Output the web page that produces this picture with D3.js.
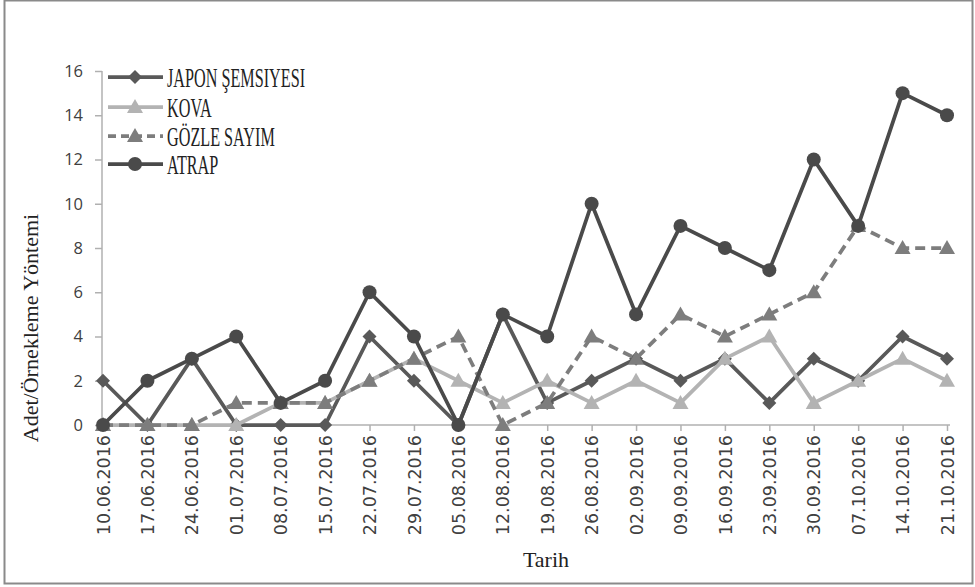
<!DOCTYPE html>
<html>
<head>
<meta charset="utf-8">
<script src="https://cdn.jsdelivr.net/npm/d3@7"></script>
<style>
  html, body { margin: 0; padding: 0; background: #fff; }
  svg { display: block; }
</style>
</head>
<body>
<script>
// Sampling dates (weekly)
const dates = ["10.06.2016","17.06.2016","24.06.2016","01.07.2016","08.07.2016","15.07.2016","22.07.2016",
  "29.07.2016","05.08.2016","12.08.2016","19.08.2016","26.08.2016","02.09.2016","09.09.2016","16.09.2016",
  "23.09.2016","30.09.2016","07.10.2016","14.10.2016","21.10.2016"];

// Counts per sampling method
const japonSemsiyesi = [2,0,3,0,0,0,4,2,0,5,1,2,3,2,3,1,3,2,4,3];
const kova           = [0,0,0,0,1,1,2,3,2,1,2,1,2,1,3,4,1,2,3,2];
const gozleSayim     = [0,0,0,1,1,1,2,3,4,0,1,4,3,5,4,5,6,9,8,8];
const atrap          = [0,2,3,4,1,2,6,4,0,5,4,10,5,9,8,7,12,9,15,14];

const seriesNames = ["JAPON ŞEMSIYESI","KOVA","GÖZLE SAYIM","ATRAP"];
const yTicks = [0,2,4,6,8,10,12,14,16];

const series = [
  {name: seriesNames[0], values: japonSemsiyesi, color: "#595959", marker: "diamond", dash: null},
  {name: seriesNames[1], values: kova,           color: "#b3b3b3", marker: "triangle", dash: null},
  {name: seriesNames[2], values: gozleSayim,     color: "#7d7d7d", marker: "triangle", dash: "10,6"},
  {name: seriesNames[3], values: atrap,          color: "#4a4a4a", marker: "circle", dash: null}
];

const W = 975, H = 587;
const svg = d3.select("body").append("svg").attr("width", W).attr("height", H);

// outer frame
svg.append("rect").attr("x", 4.5).attr("y", 0.5).attr("width", 968).attr("height", 583)
  .attr("fill", "#fff").attr("stroke", "#8a8a8a").attr("stroke-width", 2);

const x = d3.scalePoint().domain(dates).range([103, 947]);
const y = d3.scaleLinear().domain([0, 16]).range([425, 71]);
const axisX0 = 102;

// y axis
const yAxis = svg.append("g").attr("transform", `translate(${axisX0},0)`)
  .call(d3.axisLeft(y).tickValues(yTicks).tickSize(7).tickPadding(12));
yAxis.select(".domain").attr("stroke", "#b0b0b0").attr("stroke-width", 1.5)
  .attr("d", `M0,${y(16)}V${y(0)}`);
yAxis.selectAll(".tick line").attr("stroke", "#b0b0b0").attr("stroke-width", 1.5);
yAxis.selectAll(".tick text").attr("font-family", "'Open Sans', sans-serif")
  .attr("font-size", 16.5).attr("fill", "#404040");

// x axis
const xAxis = svg.append("g").attr("transform", `translate(0,${y(0)})`)
  .call(d3.axisBottom(x).tickSize(6).tickPadding(8));
xAxis.select(".domain").attr("stroke", "#b0b0b0").attr("stroke-width", 1.5)
  .attr("d", `M${axisX0},0H950`);
xAxis.selectAll(".tick line").attr("stroke", "#b0b0b0").attr("stroke-width", 1.5);
xAxis.selectAll(".tick text")
  .attr("font-family", "'DejaVu Sans', sans-serif").attr("font-size", 17.5).attr("fill", "#404040")
  .attr("transform", "rotate(-90)")
  .attr("text-anchor", "end").attr("x", -10).attr("y", 0).attr("dy", "0.35em");

// axis titles
svg.append("text").attr("x", 546).attr("y", 567).attr("text-anchor", "middle")
  .attr("font-family", "'Liberation Serif', serif").attr("font-size", 22).attr("fill", "#222")
  .text("Tarih");
svg.append("text").attr("transform", "translate(38,328) rotate(-90)").attr("text-anchor", "middle")
  .attr("font-family", "'Liberation Serif', serif").attr("font-size", 22).attr("fill", "#222")
  .text("Adet/Örnekleme Yöntemi");

// marker drawing
function drawMarker(sel, type, color) {
  if (type === "circle") {
    sel.append("circle").attr("r", 7).attr("fill", color);
  } else if (type === "diamond") {
    sel.append("path").attr("d", "M0,-7L7,0L0,7L-7,0Z").attr("fill", color);
  } else {
    sel.append("path").attr("d", "M0,-8L8,6L-8,6Z").attr("fill", color);
  }
}

const line = d3.line().x((d, i) => x(dates[i])).y(d => y(d));

series.forEach(s => {
  const g = svg.append("g");
  g.append("path").attr("d", line(s.values)).attr("fill", "none")
    .attr("stroke", s.color).attr("stroke-width", 3.75)
    .attr("stroke-dasharray", s.dash).attr("stroke-linejoin", "round");
  s.values.forEach((v, i) => {
    const m = g.append("g").attr("transform", `translate(${x(dates[i])},${y(v)})`);
    drawMarker(m, s.marker, s.color);
  });
});

// legend
const legendY = [77, 107, 136, 164];
series.forEach((s, i) => {
  const g = svg.append("g").attr("transform", `translate(0,${legendY[i]})`);
  g.append("rect").attr("x", 104).attr("y", -9).attr("width", 64).attr("height", 18).attr("fill", "#fff");
  g.append("line").attr("x1", 108).attr("x2", 163).attr("y1", 0).attr("y2", 0)
    .attr("stroke", s.color).attr("stroke-width", 3.75).attr("stroke-dasharray", s.dash ? "8,5" : null);
  const m = g.append("g").attr("transform", "translate(135,0)");
  drawMarker(m, s.marker, s.color);
  g.append("text").attr("transform", "translate(167,9.5) scale(0.6,1)")
    .attr("font-family", "'Liberation Serif', serif").attr("font-size", 27).attr("fill", "#222")
    .text(s.name);
});
</script>
</body>
</html>
